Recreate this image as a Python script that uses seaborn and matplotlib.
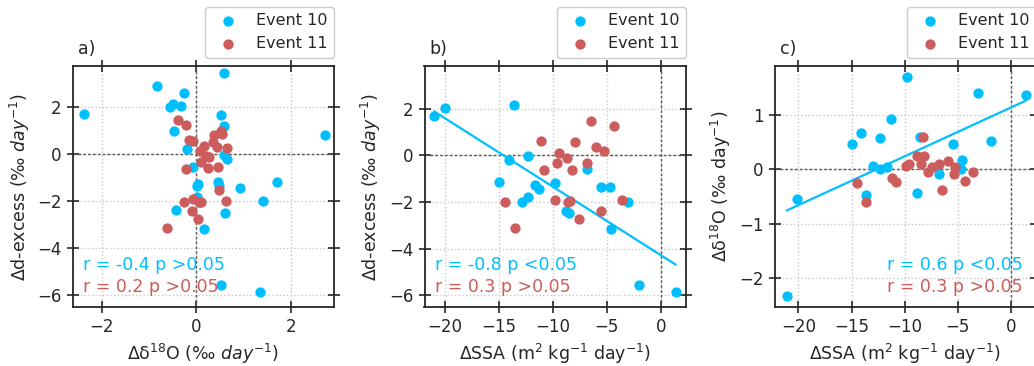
import numpy as np
import pandas as pd
import seaborn as sns
import matplotlib.pyplot as plt

# panel a: d18O vs d-excess
a10_d18o = [0.58, -0.82, -0.25, -0.55, -0.48, -0.33, -2.37, 0.53, 0.59, -0.46, -0.20, 2.73, 0.59, 0.66,
            -0.07, 0.04, 0.01, 0.47, 0.48, 0.93, 1.72, 1.41, 0.01, 0.06, -0.42, 0.61, 0.17, 0.52, 1.36]
a10_dxs = [3.48, 2.91, 2.62, 2.03, 2.14, 2.04, 1.70, 1.66, 1.19, 0.99, 0.21, 0.82, -0.03, -0.19,
           -0.54, -1.26, -1.35, -1.16, -1.35, -1.45, -1.18, -1.99, -1.80, -2.01, -2.37, -2.48, -3.16, -5.58, -5.85]
a11_d18o = [-0.38, -0.22, -0.16, -0.06, 0.37, 0.53, 0.54, 0.35, 0.44, 0.65, 0.17, 0.08, 0.28, 0.20, 0.10,
            0.25, 0.47, -0.22, 0.49, 0.64, -0.25, -0.06, 0.07, 0.11, -0.09, 0.03, -0.61]
a11_dxs = [1.46, 1.26, 0.61, 0.58, 0.82, 1.00, 0.85, 0.54, 0.30, 0.27, 0.35, 0.15, -0.10, -0.08, -0.31,
           -0.60, -0.55, -0.64, -1.52, -1.97, -2.02, -1.91, -2.02, -2.03, -2.40, -2.77, -3.12]

# panel b: SSA vs d-excess
b10_ssa = [-21.0, -20.0, -13.6, -14.1, -12.3, -15.0, -11.7, -11.3, -12.3, -12.9,
           -9.8, -6.8, -5.5, -4.7, -3.0, -8.8, -8.5, -4.6, -2.0, 1.4]
b10_dxs = [1.70, 2.03, 2.14, -0.18, -0.03, -1.16, -1.26, -1.43, -1.80, -2.01,
           -1.18, -0.57, -1.35, -1.35, -1.99, -2.37, -2.48, -3.16, -5.57, -5.87]
b11_ssa = [-6.5, -4.3, -11.1, -7.9, -6.0, -5.3, -9.4, -8.7, -9.6, -6.8,
           -10.8, -8.2, -3.6, -14.4, -9.8, -8.6, -8.4, -5.5, -7.6, -13.5]
b11_dxs = [1.46, 1.26, 0.61, 0.58, 0.34, 0.17, 0.11, -0.10, -0.34, -0.31,
           -0.64, -0.61, -1.90, -2.00, -1.93, -2.01, -1.97, -2.40, -2.72, -3.12]

# panel c: SSA vs d18O
c10_ssa = [-21.1, -20.1, -9.8, -3.1, 1.4, -15.0, -14.1, -12.3, -11.3, -8.6,
           -5.5, -1.9, -13.0, -12.3, -11.7, -13.6, -8.8, -6.8, -4.6, -4.7]
c10_d18o = [-2.35, -0.54, 1.71, 1.42, 1.37, 0.47, 0.67, 0.59, 0.93, 0.60,
            0.48, 0.52, 0.06, 0.00, 0.04, -0.47, -0.43, -0.09, 0.17, 0.01]
c11_ssa = [-14.5, -13.6, -11.2, -10.8, -9.9, -9.6, -8.8, -8.2, -8.5, -8.3,
           -7.8, -7.4, -6.8, -5.9, -5.3, -5.4, -6.5, -4.3, -3.6]
c11_d18o = [-0.25, -0.61, -0.15, -0.23, 0.07, 0.11, 0.25, 0.25, 0.10, 0.61,
            -0.05, 0.04, 0.10, 0.16, 0.04, -0.09, -0.38, -0.22, -0.05]

stats_a = ['r = -0.4 p >0.05', 'r = 0.2 p >0.05']
stats_b = ['r = -0.8 p <0.05', 'r = 0.3 p >0.05']
stats_c = ['r = 0.6 p <0.05', 'r = 0.3 p >0.05']

blue = '#00bfff'
red = '#cd5c5c'

sns.set_theme(style='ticks')
plt.rcParams.update({
    'font.family': ['DejaVu Sans'],
    'font.size': 12,
    'axes.labelsize': 12.5,
    'xtick.labelsize': 12,
    'ytick.labelsize': 12,
    'legend.fontsize': 11.5,
    'axes.edgecolor': '#262626',
    'axes.linewidth': 1.3,
    'text.color': '#262626',
    'axes.labelcolor': '#262626',
    'xtick.color': '#262626',
    'ytick.color': '#262626',
    'mathtext.default': 'regular',
})

fig = plt.figure(figsize=(10.34, 3.66), dpi=100)
W, H = 1034, 366
def add_ax(left, top, w, h):
    return fig.add_axes([left / W, (H - top - h) / H, w / W, h / H])

ax_a = add_ax(72.7, 65.7, 261, 241.6)
ax_b = add_ax(424.5, 65.7, 261, 241.6)
ax_c = add_ax(774.5, 65.7, 261, 241.6)

panels = [
    (ax_a, a10_d18o, a10_dxs, a11_d18o, a11_dxs, stats_a, 'a)', False, 'left'),
    (ax_b, b10_ssa, b10_dxs, b11_ssa, b11_dxs, stats_b, 'b)', True, 'left'),
    (ax_c, c10_ssa, c10_d18o, c11_ssa, c11_d18o, stats_c, 'c)', True, 'right'),
]

for ax, x10, y10, x11, y11, stats, tag, fit, side in panels:
    ax.set_axisbelow(True)
    ax.grid(True, color='0.78', ls=':', lw=1)
    ax.axhline(0, color='0.35', ls=(0, (2, 1.5)), lw=1, zorder=1)
    ax.axvline(0, color='0.35', ls=(0, (2, 1.5)), lw=1, zorder=1)
    df10 = pd.DataFrame({'x': x10, 'y': y10})
    df11 = pd.DataFrame({'x': x11, 'y': y11})
    sns.scatterplot(data=df10, x='x', y='y', color=blue, s=55, linewidth=0,
                    label='Event 10', ax=ax, zorder=3)
    sns.scatterplot(data=df11, x='x', y='y', color=red, s=55, linewidth=0,
                    label='Event 11', ax=ax, zorder=3)
    if fit:
        sns.regplot(data=df10, x='x', y='y', scatter=False, ci=None, color=blue,
                    line_kws={'lw': 1.6, 'zorder': 2}, ax=ax)
    ax.tick_params(direction='inout', length=9, width=1.2, top=True, right=True)
    ax.legend(loc='lower right', bbox_to_anchor=(1.003, 1.033), borderaxespad=0,
              frameon=True, edgecolor='0.8', framealpha=1)
    ax.text(0.02, 1.03, tag, transform=ax.transAxes, ha='left', va='bottom', fontsize=12.5)
    if side == 'left':
        tx, ha = 0.04, 'left'
    else:
        tx, ha = 0.95, 'right'
    ax.text(tx, 0.175, stats[0], color=blue, transform=ax.transAxes, ha=ha, va='center', fontsize=12.5)
    ax.text(tx, 0.085, stats[1], color=red, transform=ax.transAxes, ha=ha, va='center', fontsize=12.5)

ax_a.set_xlim(-2.61, 2.91)
ax_a.set_ylim(-6.51, 3.77)
ax_a.set_xticks([-2, 0, 2])
ax_a.set_yticks([-6, -4, -2, 0, 2])
ax_a.set_xlabel('Δ$\\delta^{18}$O (‰ $\\it{day}^{-1}$)')
ax_a.set_ylabel('Δd-excess (‰ $\\it{day}^{-1}$)')

ax_b.set_xlim(-21.9, 2.3)
ax_b.set_ylim(-6.51, 3.84)
ax_b.set_xticks([-20, -15, -10, -5, 0])
ax_b.set_yticks([-6, -4, -2, 0, 2])
ax_b.set_xlabel('ΔSSA (m$^2$ kg$^{-1}$ day$^{-1}$)')
ax_b.set_ylabel('Δd-excess (‰ $\\it{day}^{-1}$)')

ax_c.set_xlim(-22.25, 2.3)
ax_c.set_ylim(-2.55, 1.92)
ax_c.set_xticks([-20, -15, -10, -5, 0])
ax_c.set_yticks([-2, -1, 0, 1])
ax_c.set_xlabel('ΔSSA (m$^2$ kg$^{-1}$ day$^{-1}$)')
ax_c.set_ylabel('Δ$\\delta^{18}$O (‰ day$^{-1}$)')

fig.savefig('out.png', dpi=100)
